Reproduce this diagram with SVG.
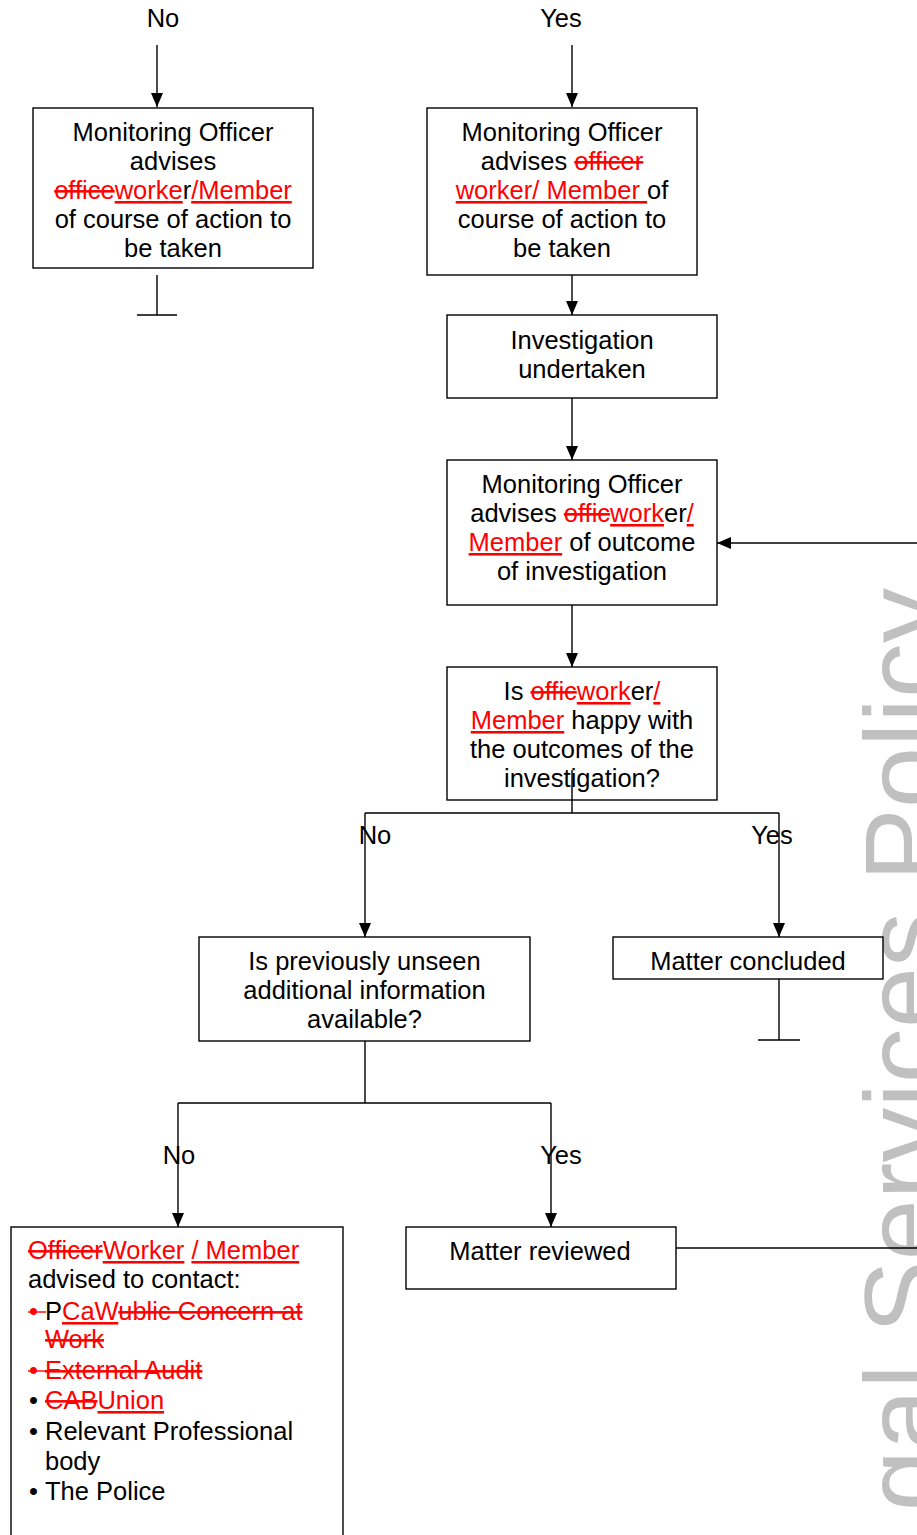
<svg xmlns="http://www.w3.org/2000/svg" width="917" height="1535" viewBox="0 0 917 1535">
<style>
text { font-family: "Liberation Sans", Arial, sans-serif; font-size: 25.5px; fill: #000; }
.c { text-anchor: middle; }
.ins { fill: #ff0000; text-decoration: underline; }
.del { fill: #ff0000; text-decoration: line-through; }
.box { fill: #fff; stroke: #000; stroke-width: 1.4; }
.ln { stroke: #000; stroke-width: 1.4; fill: none; }
.arr { marker-end: url(#ah); }
.wm { font-size: 110px; fill: #c0c0c0; text-anchor: end; }
.rl { stroke: #ff0000; stroke-width: 1.4; }
</style>
<defs>
<marker id="ah" markerWidth="14" markerHeight="12" refX="14" refY="6" orient="auto" markerUnits="userSpaceOnUse">
<path d="M0,0 L14,6 L0,12 z" fill="#000"/>
</marker>
</defs>
<rect width="917" height="1535" fill="#fff"/>
<g id="watermark">
<text class="wm" transform="translate(941,588) rotate(-90)">gal Services Policy</text>
</g>
<g id="connectors">
<path class="ln arr" d="M157,45 V107"/>
<path class="ln arr" d="M572,45 V107"/>
<path class="ln" d="M157,275 V315 M137,315 H177"/>
<path class="ln arr" d="M572,275 V315"/>
<path class="ln arr" d="M572,398 V460"/>
<path class="ln arr" d="M917,543 H717"/>
<path class="ln arr" d="M572,605 V667"/>
<path class="ln" d="M572,770 V813 M365,813 H779"/>
<path class="ln arr" d="M365,813 V937"/>
<path class="ln arr" d="M779,813 V937"/>
<path class="ln" d="M779,979 V1040 M758,1040 H800"/>
<path class="ln" d="M365,1041 V1103 M178,1103 H551"/>
<path class="ln arr" d="M178,1103 V1227"/>
<path class="ln arr" d="M551,1103 V1227"/>
<path class="ln" d="M676,1248 H917"/>
<text class="c" x="163" y="27">No</text>
<text class="c" x="561" y="27">Yes</text>
<text class="c" x="375" y="844">No</text>
<text class="c" x="772" y="844">Yes</text>
<text class="c" x="179" y="1164">No</text>
<text class="c" x="561" y="1164">Yes</text>
</g>
<g id="n1">
<rect class="box" x="33" y="108" width="280" height="160"/>
<text class="c" x="173" y="141">Monitoring Officer</text>
<text class="c" x="173" y="170">advises</text>
<text class="c" x="173" y="199"><tspan class="del">office</tspan><tspan class="ins">worke</tspan>r<tspan class="ins">/Member</tspan></text>
<text class="c" x="173" y="228">of course of action to</text>
<text class="c" x="173" y="257">be taken</text>
</g>
<g id="n2">
<rect class="box" x="427" y="108" width="270" height="167"/>
<text class="c" x="562" y="141">Monitoring Officer</text>
<text class="c" x="562" y="170">advises <tspan class="del">officer</tspan></text>
<text class="c" x="562" y="199" xml:space="preserve"><tspan class="ins">worker/ Member </tspan>of</text>
<text class="c" x="562" y="228">course of action to</text>
<text class="c" x="562" y="257">be taken</text>
</g>
<g id="n3">
<rect class="box" x="447" y="315" width="270" height="83"/>
<text class="c" x="582" y="349">Investigation</text>
<text class="c" x="582" y="378">undertaken</text>
</g>
<g id="n4">
<rect class="box" x="447" y="460" width="270" height="145"/>
<text class="c" x="582" y="493">Monitoring Officer</text>
<text class="c" x="582" y="522">advises <tspan class="del">offic</tspan><tspan class="ins">work</tspan>er<tspan class="ins">/</tspan></text>
<text class="c" x="582" y="551"><tspan class="ins">Member</tspan> of outcome</text>
<text class="c" x="582" y="580">of investigation</text>
</g>
<g id="n5">
<rect class="box" x="447" y="667" width="270" height="133"/>
<text class="c" x="582" y="700">Is <tspan class="del">offic</tspan><tspan class="ins">work</tspan>er<tspan class="ins">/</tspan></text>
<text class="c" x="582" y="729"><tspan class="ins">Member</tspan> happy with</text>
<text class="c" x="582" y="758">the outcomes of the</text>
<text class="c" x="582" y="787">investigation?</text>
</g>
<path class="ln" d="M572,770 V800"/>
<g id="n6">
<rect class="box" x="199" y="937" width="331" height="104"/>
<text class="c" x="364.5" y="970">Is previously unseen</text>
<text class="c" x="364.5" y="999">additional information</text>
<text class="c" x="364.5" y="1028">available?</text>
</g>
<g id="n7">
<rect class="box" x="613" y="937" width="270" height="42"/>
<text class="c" x="748" y="970">Matter concluded</text>
</g>
<g id="n8">
<rect class="box" x="406" y="1227" width="270" height="62"/>
<text class="c" x="540" y="1260">Matter reviewed</text>
</g>
<g id="n9">
<rect class="box" x="11" y="1227" width="332" height="320"/>
<text x="28" y="1259"><tspan class="del">Officer</tspan><tspan class="ins">Worker</tspan> <tspan class="ins">/ Member</tspan></text>
<text x="28" y="1288">advised to contact:</text>
<text x="29" y="1320" fill="#ff0000" style="fill:#ff0000">•</text>
<line class="rl" x1="28" y1="1312" x2="46" y2="1312"/>
<text x="45" y="1320">P<tspan class="ins">CaW</tspan><tspan class="del">ublic Concern at</tspan></text>
<text x="45" y="1348"><tspan class="del">Work</tspan></text>
<text x="29" y="1379" style="fill:#ff0000">•</text>
<line class="rl" x1="28" y1="1371" x2="46" y2="1371"/>
<text x="45" y="1379"><tspan class="del">External Audit</tspan></text>
<text x="29" y="1409">•</text>
<text x="45" y="1409"><tspan class="del">CAB</tspan><tspan class="ins">Union</tspan></text>
<text x="29" y="1440">•</text>
<text x="45" y="1440">Relevant Professional</text>
<text x="45" y="1470">body</text>
<text x="29" y="1500">•</text>
<text x="45" y="1500">The Police</text>
</g>
</svg>
